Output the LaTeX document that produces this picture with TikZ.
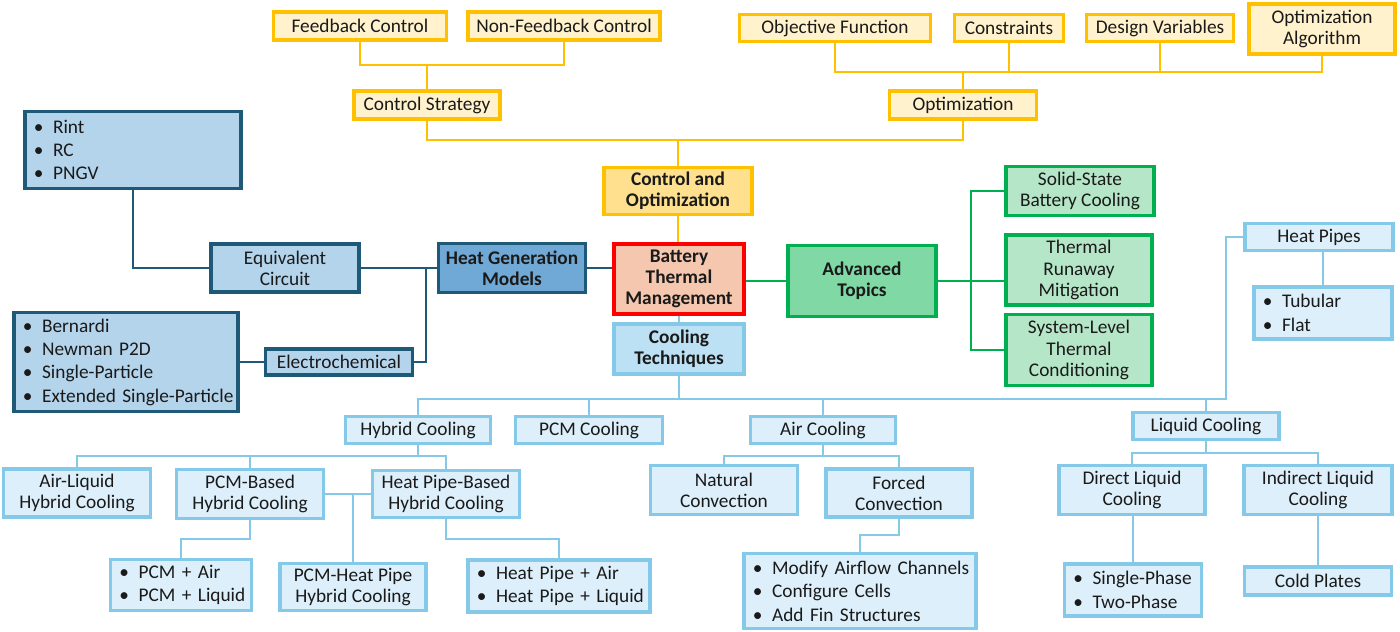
\documentclass[tikz,border=0pt]{standalone}
\usepackage{fontspec}
\setmainfont{Carlito}
\usetikzlibrary{calc, positioning}

\definecolor{ygold}{HTML}{FFC000}
\definecolor{ylight}{HTML}{FFF2CC}
\definecolor{ymidc}{HTML}{FFE08F}
\definecolor{dblue}{HTML}{1E5A78}
\definecolor{dlight}{HTML}{B4D4EC}
\definecolor{dmidc}{HTML}{70A8D6}
\definecolor{lblue}{HTML}{85C9E9}
\definecolor{blight}{HTML}{DDEFFA}
\definecolor{bmidc}{HTML}{BDE1F4}
\definecolor{ggreen}{HTML}{00B050}
\definecolor{glight}{HTML}{B5E6C7}
\definecolor{gmidc}{HTML}{80D8A4}
\definecolor{rootfill}{HTML}{F6C7AF}
\definecolor{ink}{HTML}{1A1A1A}

\newcommand\bul[1]{\mbox{\makebox[11pt][l]{\textbullet}#1}}

\tikzset{
  box/.style={draw, rectangle, line width=2.2pt, align=center, inner sep=1pt,
    text=ink, font=\fontsize{11}{12}\selectfont},
  sz/.style 2 args={minimum width=#1*0.02cm, minimum height=#2*0.02cm},
  lst/.style={align=left, inner xsep=5pt, font=\fontsize{11}{13.3}\selectfont},
  yleaf/.style={box, draw=ygold, fill=ylight},
  ymid/.style={box, draw=ygold, fill=ymidc, font=\fontsize{11}{12}\selectfont\bfseries},
  dleaf/.style={box, draw=dblue, fill=dlight},
  dmid/.style={box, draw=dblue, fill=dmidc, font=\fontsize{11}{12}\selectfont\bfseries},
  bleaf/.style={box, draw=lblue, fill=blight},
  bmid/.style={box, draw=lblue, fill=bmidc, font=\fontsize{11}{12}\selectfont\bfseries},
  gleaf/.style={box, draw=ggreen, fill=glight},
  gmid/.style={box, draw=ggreen, fill=gmidc, font=\fontsize{11}{12}\selectfont\bfseries},
  rootbox/.style={box, draw=red, fill=rootfill, font=\fontsize{11}{12}\selectfont\bfseries},
  ylink/.style={draw=ygold, line width=1.3pt},
  dlink/.style={draw=dblue, line width=1.3pt},
  blink/.style={draw=lblue, line width=1.3pt},
  glink/.style={draw=ggreen, line width=1.3pt}
}

\begin{document}
\begin{tikzpicture}[x=0.02cm, y=-0.02cm]
\useasboundingbox (0,0) rectangle (1400,632);

% centre
\node[rootbox, sz={130}{70}] (btm) at (679,279) {Battery\\Thermal\\Management};

% control and optimization
\node[yleaf, sz={173}{28}] (fb) at (360,26) {Feedback Control};
\node[yleaf, sz={192}{28}] (nfb) at (564,26) {Non-Feedback Control};
\node[yleaf, sz={146}{28}] (cs) at (427,105) {Control Strategy};
\node[yleaf, sz={191}{27}] (objf) at (835,28) {Objective Function};
\node[yleaf, sz={109}{27}] (cons) at (1009,28) {Constraints};
\node[yleaf, sz={147}{27}] (dvar) at (1160,28) {Design Variables};
\node[yleaf, sz={146}{50}] (oalg) at (1322,29) {Optimization\\Algorithm};
\node[yleaf, sz={147}{28}] (opt) at (963,105) {Optimization};
\node[ymid, sz={148}{47}] (cando) at (678,191) {Control and\\Optimization};

\coordinate (ybus1) at (0,65);
\coordinate (ybus2) at (0,72);
\coordinate (ybus3) at (0,140);
\draw[ylink] (fb.south) -- (fb.south|-ybus1) -- (nfb.south|-ybus1) -- (nfb.south);
\draw[ylink] (cs.north) -- (cs.north|-ybus1);
\draw[ylink] (objf.south) -- (objf.south|-ybus2) -- (oalg.south|-ybus2) -- (oalg.south);
\draw[ylink] (cons.south) -- (cons.south|-ybus2);
\draw[ylink] (dvar.south) -- (dvar.south|-ybus2);
\draw[ylink] (opt.north) -- (opt.north|-ybus2);
\draw[ylink] (cs.south) -- (cs.south|-ybus3) -- (opt.south|-ybus3) -- (opt.south);
\draw[ylink] (cando.north) -- (cando.north|-ybus3);
\draw[ylink] (cando.south) -- (cando.south|-btm.north);

% heat generation models
\node[dmid, sz={147}{49}] (hgm) at (512,268) {Heat Generation\\Models};
\node[dleaf, sz={148}{48}] (eqc) at (285,268) {Equivalent\\Circuit};
\node[dleaf, sz={147}{26}] (echem) at (339,362) {Electrochemical};
\node[dleaf, lst, minimum height=77*0.02cm, text width=3.97cm] (rclist) at (133,150)
  {\bul{Rint}\\\bul{RC}\\\bul{PNGV}};
\node[dleaf, lst, minimum height=99*0.02cm, text width=4.13cm] (p2dlist) at (126,362)
  {\bul{Bernardi}\\\bul{Newman P2D}\\\bul{Single-Particle}\\\bul{Extended Single-Particle}};

\coordinate (hjoin) at (426,268);
\draw[dlink] (hgm.east) -- (hgm.east-|btm.west);
\draw[dlink] (eqc.east) -- (hgm.west);
\draw[dlink] (echem.east) -| (hjoin);
\draw[dlink] (rclist.south) |- (eqc.west);
\draw[dlink] (p2dlist.east) -- (echem.west);

% advanced topics
\node[gmid, sz={148}{71}] (adv) at (862,281) {Advanced\\Topics};
\node[gleaf, sz={148}{49}] (ssb) at (1080,191) {Solid-State\\Battery Cooling};
\node[gleaf, sz={146}{70}] (tr) at (1079,270) {Thermal\\Runaway\\Mitigation};
\node[gleaf, sz={146}{71}] (slt) at (1079,350) {System-Level\\Thermal\\Conditioning};

\coordinate (gjoin) at (971,281);
\draw[glink] (btm.east|-adv.west) -- (adv.west);
\draw[glink] (adv.east) -- (adv.east-|tr.west);
\draw[glink] (ssb.west) -| (gjoin) |- (slt.west);

% cooling techniques
\node[bmid, sz={130}{50}] (cool) at (679,349) {Cooling\\Techniques};
\node[bleaf, sz={145}{27}] (hyb) at (418,430) {Hybrid Cooling};
\node[bleaf, sz={147}{27}] (pcm) at (589,430) {PCM Cooling};
\node[bleaf, sz={145}{27}] (air) at (823,430) {Air Cooling};
\node[bleaf, sz={146}{27}] (liq) at (1206,426) {Liquid Cooling};
\node[bleaf, sz={148}{27}] (hp) at (1319,237) {Heat Pipes};
\node[bleaf, lst, minimum height=52*0.02cm, text width=2.41cm] (hplist) at (1323,313)
  {\bul{Tubular}\\\bul{Flat}};

\coordinate (cbus) at (0,399);
\coordinate (hpturn) at (1226,399);
\draw[blink] (btm.south) -- (btm.south|-cool.north);
\draw[blink] (cool.south) -- (cool.south|-cbus);
\draw[blink] (hyb.north) |- (hpturn) |- (hp.west);
\draw[blink] (pcm.north) -- (pcm.north|-cbus);
\draw[blink] (air.north) -- (air.north|-cbus);
\draw[blink] (liq.north) -- (liq.north|-cbus);
\draw[blink] (hplist.north) -- (hplist.north|-hp.south);

% hybrid cooling
\node[bleaf, sz={147}{48}] (alh) at (77,493) {Air-Liquid\\Hybrid Cooling};
\node[bleaf, sz={147}{49}] (pcmb) at (250,494) {PCM-Based\\Hybrid Cooling};
\node[bleaf, sz={147}{47}] (hpb) at (446,494) {Heat Pipe-Based\\Hybrid Cooling};
\node[bleaf, sz={146}{47}] (pcmhp) at (353,587) {PCM-Heat Pipe\\Hybrid Cooling};
\node[bleaf, lst, minimum height=51*0.02cm, text width=2.47cm] (pcmlist) at (181,585)
  {\bul{PCM + Air}\\\bul{PCM + Liquid}};
\node[bleaf, lst, minimum height=52*0.02cm, text width=3.29cm] (hplst2) at (559,586)
  {\bul{Heat Pipe + Air}\\\bul{Heat Pipe + Liquid}};

\coordinate (hbus) at (0,456);
\draw[blink] (hyb.south) -- (hyb.south|-hbus);
\draw[blink] (alh.north) |- (hpb.north|-hbus) -- (hpb.north);
\draw[blink] (pcmb.north) -- (pcmb.north|-hbus);
\draw[blink] (pcmb.east) -- (hpb.west);
\draw[blink] (pcmhp.north) -- (pcmhp.north|-pcmb.east);
\draw[blink] (pcmb.south) |- ($(pcmb.south)!.5!(pcmlist.north)$) -| (pcmlist.north);
\draw[blink] (hpb.south) |- ($(hpb.south)!.5!(hplst2.north)$) -| (hplst2.north);

% air cooling
\node[bleaf, sz={147}{49}] (nat) at (724,490) {Natural\\Convection};
\node[bleaf, sz={146}{48}] (forc) at (899,493) {Forced\\Convection};
\node[bleaf, lst, minimum height=75*0.02cm, text width=4.29cm] (airlist) at (860,591)
  {\bul{Modify Airflow Channels}\\\bul{Configure Cells}\\\bul{Add Fin Structures}};

\draw[blink] (air.south) -- (air.south|-hbus);
\draw[blink] (nat.north) |- (forc.north|-hbus) -- (forc.north);
\draw[blink] (forc.south) |- ($(forc.south)!.5!(airlist.north)$) -| (airlist.north);

% liquid cooling
\node[bleaf, sz={146}{49}] (dlc) at (1132,490) {Direct Liquid\\Cooling};
\node[bleaf, sz={148}{49}] (ilc) at (1318,490) {Indirect Liquid\\Cooling};
\node[bleaf, lst, minimum height=52*0.02cm, text width=2.39cm] (phase) at (1133,590)
  {\bul{Single-Phase}\\\bul{Two-Phase}};
\node[bleaf, sz={147}{28}] (cold) at (1318,581) {Cold Plates};

\coordinate (lbus) at (0,453);
\draw[blink] (liq.south) -- (liq.south|-lbus);
\draw[blink] (dlc.north) |- (ilc.north|-lbus) -- (ilc.north);
\draw[blink] (phase.north) -- (phase.north|-dlc.south);
\draw[blink] (ilc.south) -- (cold.north);

\end{tikzpicture}
\end{document}
